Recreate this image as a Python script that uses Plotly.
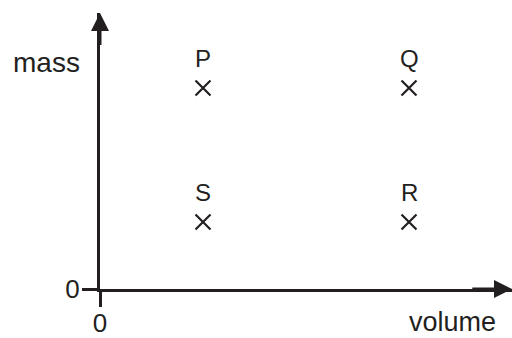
import plotly.graph_objects as go

# Data
labels = ["P", "Q", "R", "S"]
volume = [1, 3, 3, 1]
mass = [3, 3, 1, 1]
x_title = "volume"
y_title = "mass"
tick_vals = [0]
tick_text = ["0"]

INK = "#231f20"
FONT = "Liberation Sans, Arial, sans-serif"

fig = go.Figure()
fig.add_trace(go.Scatter(
    x=volume, y=mass, mode="markers",
    marker=dict(symbol="x-thin", size=15, line=dict(width=2.2, color=INK), color=INK),
    hoverinfo="skip", showlegend=False,
))

annotations = []
for lab, vx, my in zip(labels, volume, mass):
    annotations.append(dict(x=vx, y=my, xref="x", yref="y", text=lab, showarrow=False,
                            xanchor="center", yanchor="middle",
                            yshift=30, font=dict(family=FONT, size=24, color=INK)))

X_MAX = 4.0
Y_MAX = 4.12
# axis arrowheads
annotations.append(dict(x=0, y=Y_MAX, ax=0, ay=Y_MAX - 0.5, xref="x", yref="y", axref="x", ayref="y",
                        text="", showarrow=True, arrowhead=2, arrowsize=1.2, arrowwidth=3, arrowcolor=INK))
annotations.append(dict(x=X_MAX, y=0, ax=X_MAX - 0.4, ay=0, xref="x", yref="y", axref="x", ayref="y",
                        text="", showarrow=True, arrowhead=2, arrowsize=1.2, arrowwidth=3, arrowcolor=INK))
# axis titles (paper coordinates, outside plot area)
annotations.append(dict(x=-54 / 412, y=(276 - 49) / 276, xref="paper", yref="paper", text=y_title,
                        xanchor="center", yanchor="middle",
                        showarrow=False, font=dict(family=FONT, size=28, color=INK)))
annotations.append(dict(x=352 / 412, y=-49 / 276, xref="paper", yref="paper", text=x_title,
                        xanchor="center", yanchor="bottom", borderpad=0,
                        showarrow=False, font=dict(family=FONT, size=27, color=INK)))

axis_common = dict(showgrid=False, zeroline=False, showline=True, linewidth=3, linecolor=INK,
                   ticks="outside", ticklen=15, tickwidth=3, tickcolor=INK,
                   tickvals=tick_vals, ticktext=tick_text, automargin=False,
                   tickfont=dict(family=FONT, size=26, color=INK), fixedrange=True)

fig.update_layout(
    width=512, height=338,
    margin=dict(l=100, r=0, t=13, b=49, pad=0),
    paper_bgcolor="white", plot_bgcolor="white",
    annotations=annotations,
    xaxis=dict(range=[0, X_MAX], ticklabelstandoff=-6, **axis_common),
    yaxis=dict(range=[0, Y_MAX], ticklabelstandoff=-3, **axis_common),
)

fig.write_html("out.html", config={"displayModeBar": False},
               post_script="document.body.style.margin='0';document.body.style.overflow='hidden';")
